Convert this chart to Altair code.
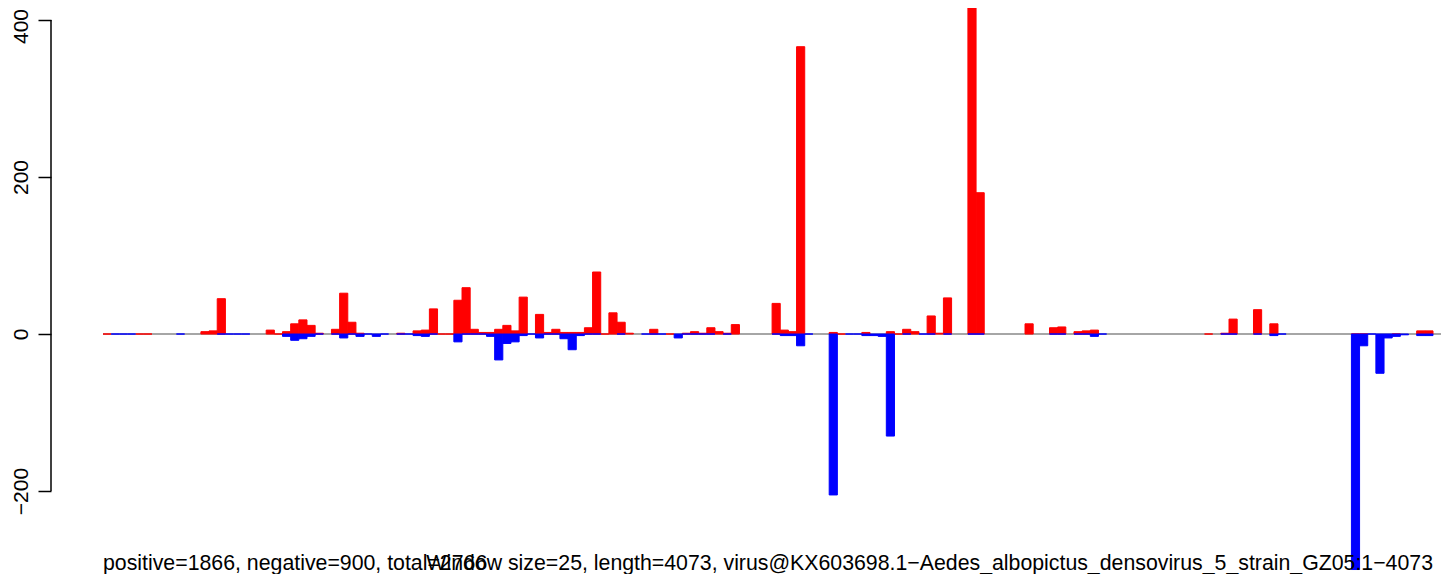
import altair as alt
import pandas as pd

N = None
# one value per 25-nt window (163 windows); None = no bar drawn
positive = [
    0, N, N, N, 0, 0, N, N, N, N,
    N, N, 3, 4, 45, N, N, N, N, N,
    5, 0, 3, 13, 18, 11, 1, N, 6, 52,
    15, 1, N, N, N, N, 1, N, 4, 5,
    32, 0, 0, 43, 59, 6, 2, 2, 6, 11,
    4, 47, N, 25, 2, 6, 2, 2, 2, 8,
    79, 0, 27, 15, 1, N, N, 6, N, 0,
    N, 1, 3, 1, 8, 3, 1, 12, N, N,
    N, N, 39, 5, 3, 366, N, N, N, 2,
    0, N, N, 2, N, N, 3, 0, 6, 3,
    N, 23, 1, 46, N, N, 470, 180, N, N,
    N, N, N, 13, N, N, 8, 9, N, 3,
    4, 5, N, N, N, N, N, N, N, N,
    N, N, N, N, N, 0, N, 1, 19, N,
    N, 31, N, 13, N, N, N, N, N, N,
    N, N, N, 0, 0, N, N, N, 0, N,
    N, 4, 4,
]
negative = [
    N, 0, 0, 0, N, N, N, N, N, 0,
    N, N, N, N, 0, 0, 0, 0, N, N,
    N, N, -3, -8, -6, -3, 0, N, 0, -5,
    0, -3, 0, -3, 0, N, 0, 0, -2, -3,
    0, N, N, -10, 0, 0, 0, -3, -33, -12,
    -10, -2, 0, -5, 0, 0, -6, -20, -2, 0,
    0, N, N, 0, N, N, 0, 0, 0, N,
    -5, 0, 0, 0, 0, N, 0, N, N, N,
    N, N, 0, -2, -2, -15, 0, N, N, -205,
    N, 0, 0, -2, -2, -3, -130, N, 0, N,
    0, 0, N, 0, N, N, 0, 0, N, N,
    N, N, N, N, N, N, 0, 0, N, 0,
    0, -3, 0, N, N, N, N, N, N, N,
    N, N, N, N, N, N, N, 0, 0, N,
    N, 0, N, -2, 0, N, N, N, N, N,
    N, N, N, -300, -15, 0, -50, -5, -3, -1,
    N, -2, -2,
]
y_ticks = [-200, 0, 200, 400]
left_caption = "positive=1866, negative=900, total=2766"
right_caption = ("Window size=25, length=4073, "
                 "virus@KX603698.1\u2212Aedes_albopictus_densovirus_5_strain_GZ05:1\u22124073")


def frame(vals):
    rows = [{"start": i, "end": i + 1, "value": v} for i, v in enumerate(vals) if v is not None]
    return pd.DataFrame(rows)


pos_df = frame(positive)
neg_df = frame(negative)

W, H = 1390, 566
x_scale = alt.Scale(domain=[-6.373, 163.98], nice=False, zero=False)
y_scale = alt.Scale(domain=[-305.7, 415.3], nice=False, zero=False)

y_axis = alt.Axis(values=y_ticks, title=None, grid=False, domain=False,
                  tickSize=13, tickColor="black", tickWidth=1.5,
                  labelAngle=270, labelAlign="center", labelBaseline="alphabetic",
                  labelPadding=11, labelFontSize=21, labelFont="Liberation Sans",
                  labelColor="black",
                  labelOffset=alt.condition("datum.value == 400", alt.value(6), alt.value(0)))

x_enc = alt.X("start:Q", scale=x_scale, axis=None)

zero_line = alt.Chart(pd.DataFrame({"a": [0], "b": [163.98], "value": [0]})).mark_rule(
    color="#888888", strokeWidth=1.6
).encode(
    x=alt.X("a:Q", scale=x_scale, axis=None),
    x2="b:Q",
    y=alt.Y("value:Q", scale=y_scale, axis=y_axis),
)

pos_bars = alt.Chart(pos_df).mark_bar(
    color="#FF0000", stroke="#FF0000", strokeWidth=1, clip=True
).encode(
    x=x_enc, x2="end:Q",
    y=alt.Y("value:Q", scale=y_scale, axis=y_axis),
    y2=alt.datum(0),
)

neg_bars = alt.Chart(neg_df).mark_bar(
    color="#0000FF", stroke="#0000FF", strokeWidth=1, clip=True
).encode(
    x=x_enc, x2="end:Q",
    y=alt.Y("value:Q", scale=y_scale, axis=y_axis),
    y2=alt.datum(0),
)

axis_line = alt.Chart(pd.DataFrame({"value": [y_ticks[0]], "hi": [y_ticks[-1]]})).mark_rule(
    color="black", strokeWidth=1.5
).encode(
    x=alt.value(0),
    y=alt.Y("value:Q", scale=y_scale, axis=y_axis),
    y2="hi:Q",
)

cap_df = pd.DataFrame({"left": [left_caption], "right": [right_caption]})
left_text = alt.Chart(cap_df).mark_text(
    align="left", baseline="alphabetic", fontSize=21.3, font="Liberation Sans", color="black"
).encode(text="left:N", x=alt.value(52), y=alt.value(562))
right_text = alt.Chart(cap_df).mark_text(
    align="right", baseline="alphabetic", fontSize=21.3, font="Liberation Sans", color="black"
).encode(text="right:N", x=alt.value(1382), y=alt.value(562))

chart = alt.layer(zero_line, pos_bars, neg_bars, axis_line, left_text, right_text).properties(
    width=W, height=H,
    autosize=alt.AutoSizeParams(type="none"),
    padding={"left": 43, "top": 0, "right": 0, "bottom": 0},
).configure_view(stroke=None)

chart.save("out.html", embed_options={"renderer": "svg", "actions": False})
